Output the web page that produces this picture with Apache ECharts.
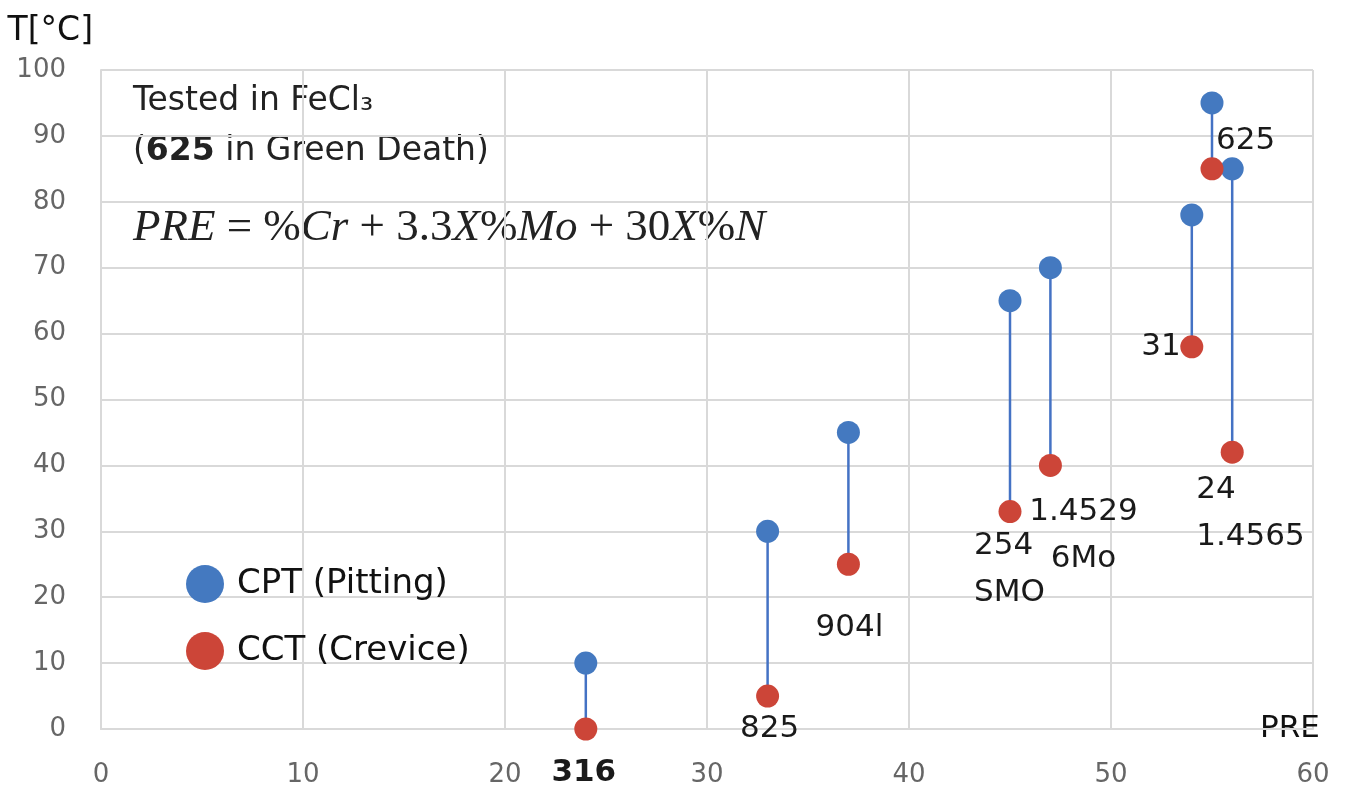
<!DOCTYPE html>
<html>
<head>
<meta charset="utf-8">
<script src="https://cdn.jsdelivr.net/npm/echarts@6/dist/echarts.min.js"></script>
<style>
  html, body { margin: 0; padding: 0; background: #fff; }
  #chart { width: 1346px; height: 789px; }
</style>
</head>
<body>
<div id="chart"></div>
<script>
// PRE value of each alloy, and its critical temperatures
const pre = [24, 33, 37, 45, 47, 54, 55, 56];
const cpt = [10, 30, 45, 65, 70, 78, 95, 85];
const cct = [0, 5, 25, 33, 40, 58, 85, 42];
const alloyNames = ['316', '825', '904l', '254\nSMO', '1.4529\n6Mo', '31', '625', '24\n1.4565'];
const xTicks = { min: 0, max: 60, step: 10 };
const yTicks = { min: 0, max: 100, step: 10 };

// where each alloy name sits relative to its marker (styling only)
const nameOnCpt = [false, false, false, false, false, false, true, false];
const nameOffset = [[-2, 44], [2, 33], [1, 64], [-36, 58], [33, 70], [-11, 0], [4, 38], [-36, 61]];
const nameAlign = ['center', 'center', 'center', 'left', 'center', 'right', 'left', 'left'];

const blue = '#4479c0';
const red = '#cc4538';
const font = 'DejaVu Sans';

function pointLabel(i) {
  return {
    show: true,
    position: 'inside',
    formatter: alloyNames[i],
    offset: nameOffset[i],
    align: nameAlign[i],
    verticalAlign: 'middle',
    fontFamily: font,
    fontSize: 31,
    lineHeight: 47,
    fontWeight: i === 0 ? 'bold' : 'normal',
    color: '#1a1a1a'
  };
}

const cptData = pre.map((x, i) => {
  const item = { value: [x, cpt[i]] };
  if (nameOnCpt[i]) item.label = pointLabel(i);
  return item;
});
const cctData = pre.map((x, i) => {
  const item = { value: [x, cct[i]] };
  if (!nameOnCpt[i]) item.label = pointLabel(i);
  return item;
});
const stems = pre.map((x, i) => [x, cpt[i], cct[i]]);

const gridColor = '#d9d9d9';
const chart = echarts.init(document.getElementById('chart'));
chart.setOption({
  animation: false,
  backgroundColor: '#fff',
  grid: { left: 101, right: 33, top: 70, bottom: 60 },
  legend: {
    orient: 'vertical',
    left: 181,
    top: 560,
    icon: 'circle',
    itemWidth: 38,
    itemHeight: 38,
    itemGap: 29,
    data: ['CPT (Pitting)', 'CCT (Crevice)'],
    textStyle: { fontFamily: font, fontSize: 34, color: '#111', padding: [0, 0, 0, 8] }
  },
  xAxis: {
    type: 'value',
    min: xTicks.min,
    max: xTicks.max,
    interval: xTicks.step,
    name: 'PRE',
    nameLocation: 'end',
    nameGap: -23,
    nameTextStyle: { fontFamily: font, fontSize: 31, color: '#111', align: 'center', verticalAlign: 'middle', padding: [0, 0, 10, 0] },
    axisLine: { show: true, lineStyle: { color: gridColor, width: 2 } },
    axisTick: { show: false },
    axisLabel: { margin: 33, fontFamily: font, fontSize: 26, color: '#666' },
    splitLine: { show: true, lineStyle: { color: gridColor, width: 2 } }
  },
  yAxis: {
    type: 'value',
    min: yTicks.min,
    max: yTicks.max,
    interval: yTicks.step,
    name: 'T[°C]',
    nameLocation: 'end',
    nameGap: 39,
    nameTextStyle: { fontFamily: font, fontSize: 33, color: '#111', align: 'right', verticalAlign: 'middle', padding: [0, 8, 0, 0] },
    axisLine: { show: true, lineStyle: { color: gridColor, width: 2 } },
    axisTick: { show: false },
    axisLabel: { margin: 35, fontFamily: font, fontSize: 26, color: '#666' },
    splitLine: { show: true, lineStyle: { color: gridColor, width: 2 } }
  },
  graphic: [
    {
      type: 'text',
      left: 133,
      top: 76,
      style: {
        text: 'Tested in FeCl₃\n({b|625} in Green Death)',
        fontFamily: font,
        fontSize: 33,
        lineHeight: 50,
        fill: '#222',
        rich: { b: { fontFamily: font, fontSize: 33, fontWeight: 'bold', fill: '#222' } }
      }
    },
    {
      type: 'text',
      left: 133,
      top: 206,
      style: {
        text: '{i|PRE} = %{i|Cr} + 3.3{i|X}%{i|Mo} + 30{i|X}%{i|N}',
        fontFamily: 'Liberation Serif',
        fontSize: 45,
        fill: '#222',
        rich: { i: { fontFamily: 'Liberation Serif', fontStyle: 'italic', fontSize: 45, fill: '#222' } }
      }
    }
  ],
  series: [
    {
      type: 'custom',
      z: 1,
      silent: true,
      data: stems,
      encode: { x: 0, y: [1, 2] },
      renderItem: function (params, api) {
        const top = api.coord([api.value(0), api.value(1)]);
        const bot = api.coord([api.value(0), api.value(2)]);
        return {
          type: 'line',
          shape: { x1: top[0], y1: top[1], x2: bot[0], y2: bot[1] },
          style: { stroke: '#4472c4', lineWidth: 2.5 }
        };
      }
    },
    {
      name: 'CPT (Pitting)',
      type: 'scatter',
      z: 3,
      symbolSize: 23,
      itemStyle: { color: blue, opacity: 1 },
      data: cptData
    },
    {
      name: 'CCT (Crevice)',
      type: 'scatter',
      z: 3,
      symbolSize: 23,
      itemStyle: { color: red, opacity: 1 },
      data: cctData
    }
  ]
});
</script>
</body>
</html>
